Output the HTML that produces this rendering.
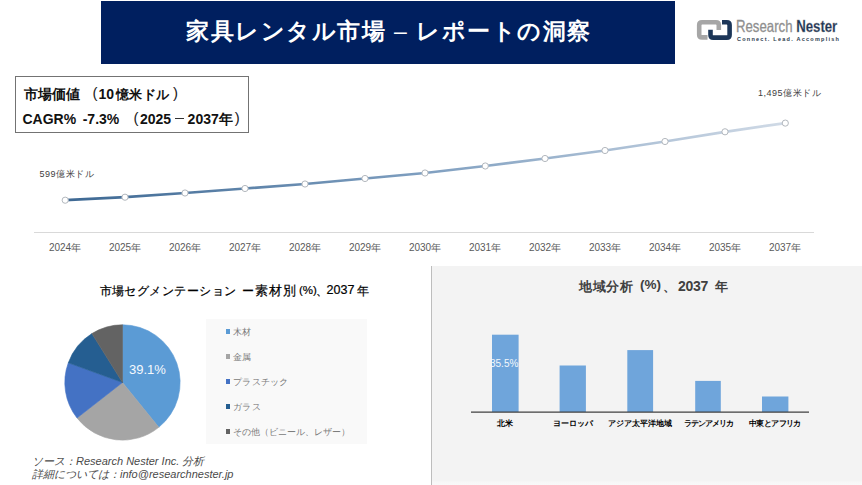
<!DOCTYPE html>
<html lang="ja"><head><meta charset="utf-8">
<style>
html,body{margin:0;padding:0;}
body{width:862px;height:485px;position:relative;overflow:hidden;background:#fff;font-family:"Liberation Sans",sans-serif;color:#000;}
.abs{position:absolute;white-space:nowrap;}
#banner{left:101px;top:1px;width:574px;height:63px;background:#001f5f;}
#tt{left:186px;top:11px;line-height:40px;color:#fff;font-size:23px;font-weight:bold;letter-spacing:1.5px;}
#box{left:15px;top:76px;width:231.5px;height:54.5px;border:1.6px solid #737373;}
.bp{font-size:15px;line-height:20px;color:#222;}
.t1{font-size:12px;line-height:20px;color:#000;-webkit-text-stroke:0.2px #000;}
.t2{font-size:13px;line-height:20px;font-weight:bold;color:#404040;}
.bt{font-size:14px;font-weight:bold;line-height:20px;color:#111;}
#panel{left:431px;top:266px;width:431px;height:219px;background:linear-gradient(#f3f3f3 0,#f3f3f3 214px,#f7f7f7 216px,#f9f9f9 219px);border-left:1.5px solid #bdbdbd;}
#legend{left:206px;top:319px;width:161px;height:125px;background:#f9f9f9;}
.li{font-size:9px;color:#7a7a7a;left:233px;line-height:12px;letter-spacing:0.3px;}
.sq{position:absolute;left:226px;width:4px;height:5px;}
.yr{font-size:10px;color:#5a5a5a;width:60px;text-align:center;top:241px;}
.bl{font-size:8px;font-weight:bold;color:#000;width:80px;text-align:center;top:418px;}
</style></head><body>
<div id="banner" class="abs"></div>
<div id="tt" class="abs">家具レンタル市場 <span style="font-weight:normal">–</span> レポートの洞察</div>

<!-- logo -->
<svg class="abs" style="left:0;top:0" width="862" height="60">
  <path d="M718.8,30 V25 Q718.8,22.3 716,22.3 H702 Q699.2,22.3 699.2,25 V34.7 Q699.2,37.4 702,37.4 H707.5" fill="none" stroke="#a6a6a6" stroke-width="4.6"/>
  <path d="M722,22.3 H726.8 Q729.6,22.3 729.6,25 V34.9 Q729.6,37.6 726.8,37.6 H713.2 Q710.5,37.6 710.5,34.9 V29.8" fill="none" stroke="#1c3658" stroke-width="4.6"/>
</svg>
<div class="abs" style="left:736px;top:15.5px;font-size:16.5px;line-height:20px;color:#8f8f8f;-webkit-text-stroke:0.3px #8f8f8f;transform:scaleX(0.8);transform-origin:0 0;">Research <b style="color:#1c3658">Nester</b></div>
<div class="abs" style="left:737px;top:35px;font-size:5.5px;line-height:8px;color:#2b3a4d;letter-spacing:1.25px;font-weight:bold;">Connect. Lead. Accomplish</div>

<div id="box" class="abs"></div>
<div class="abs bt" style="left:24.4px;top:84px">市場価値</div>
<div class="abs bp" style="left:92.4px;top:82.9px">(</div>
<div class="abs bt" style="left:98.4px;top:84px">10</div>
<div class="abs bt" style="left:116.2px;top:84.5px;font-size:13px">憶米</div>
<div class="abs bt" style="left:143.3px;top:84.5px;font-size:13px">ドル</div>
<div class="abs bp" style="left:172.9px;top:82.9px">)</div>
<div class="abs bt" style="left:22.5px;top:108.7px">CAGR%</div>
<div class="abs bt" style="left:82.7px;top:108.7px">-7.3%</div>
<div class="abs bp" style="left:133.4px;top:107.9px">(</div>
<div class="abs bt" style="left:140px;top:108.7px">2025</div>
<div class="abs" style="left:175px;top:118px;width:9.3px;height:1.4px;background:#333"></div>
<div class="abs bt" style="left:187.6px;top:108.7px">2037年</div>
<div class="abs bp" style="left:234.7px;top:108.2px">)</div>

<!-- line chart -->
<svg class="abs" style="left:0;top:0" width="862" height="260">
  <defs>
    <linearGradient id="lg" x1="65" y1="0" x2="785" y2="0" gradientUnits="userSpaceOnUse">
      <stop offset="0" stop-color="#3d6893"/>
      <stop offset="0.5" stop-color="#7f9fc0"/>
      <stop offset="1" stop-color="#d0dae6"/>
    </linearGradient>
  </defs>
  <line x1="34" y1="232.5" x2="814" y2="232.5" stroke="#d9d9d9" stroke-width="1"/>
  <polyline fill="none" stroke="url(#lg)" stroke-width="2.7" points="65.2,200.2 125,197.2 185,193 245,188.5 305,184 365,178.5 425,173 485.3,166 545,158.5 605,150.5 665,141.5 725,131.8 785.3,123.1"/>
  <g fill="#fff" stroke="#b3b8be" stroke-width="1">
    <circle cx="65.2" cy="200.2" r="3.1"/><circle cx="125" cy="197.2" r="3.1"/><circle cx="185" cy="193" r="3.1"/><circle cx="245" cy="188.5" r="3.1"/><circle cx="305" cy="184" r="3.1"/><circle cx="365" cy="178.5" r="3.1"/><circle cx="425" cy="173" r="3.1"/><circle cx="485.3" cy="166" r="3.1"/><circle cx="545" cy="158.5" r="3.1"/><circle cx="605" cy="150.5" r="3.1"/><circle cx="665" cy="141.5" r="3.1"/><circle cx="725" cy="131.8" r="3.1"/><circle cx="785.3" cy="123.1" r="3.1"/>
  </g>
</svg>
<div class="abs" style="left:39.5px;top:168px;font-size:9px;color:#404040;letter-spacing:0.55px;">599億米ドル</div>
<div class="abs" style="left:758px;top:86.5px;font-size:9px;color:#404040;letter-spacing:0.5px;">1,495億米ドル</div>
<div class="abs yr" style="left:35px">2024年</div>
<div class="abs yr" style="left:95px">2025年</div>
<div class="abs yr" style="left:155px">2026年</div>
<div class="abs yr" style="left:215px">2027年</div>
<div class="abs yr" style="left:275px">2028年</div>
<div class="abs yr" style="left:335px">2029年</div>
<div class="abs yr" style="left:395px">2030年</div>
<div class="abs yr" style="left:455px">2031年</div>
<div class="abs yr" style="left:515px">2032年</div>
<div class="abs yr" style="left:575px">2033年</div>
<div class="abs yr" style="left:635px">2034年</div>
<div class="abs yr" style="left:695px">2035年</div>
<div class="abs yr" style="left:755px">2037年</div>

<!-- bottom left -->
<div class="abs t1" style="left:99.6px;top:280.6px;letter-spacing:0.45px">市場セグメンテーション</div>
<div class="abs t1" style="left:242.1px;top:280.6px">ー</div>
<div class="abs t1" style="left:255.1px;top:280.6px;font-size:13px;letter-spacing:1px">素材別</div>
<div class="abs t1" style="left:299px;top:280.3px;font-size:11.5px">(%)</div>
<div class="abs t1" style="left:315.8px;top:280.6px">、</div>
<div class="abs t1" style="left:326.6px;top:280px;font-size:12.5px">2037</div>
<div class="abs t1" style="left:357.4px;top:280.6px">年</div>
<svg class="abs" style="left:0;top:0" width="431" height="485">
  <g transform="translate(122.5,382.5)">
  <path d="M0,0 L0,-57.7 A57.7,57.7 0 0 1 36.3,44.8 Z" fill="#5b9bd5" stroke="#5b9bd5" stroke-width="0.6" stroke-linejoin="round"/>
  <path d="M0,0 L36.3,44.8 A57.7,57.7 0 0 1 -45.5,35.5 Z" fill="#a5a5a5" stroke="#a5a5a5" stroke-width="0.6" stroke-linejoin="round"/>
  <path d="M0,0 L-45.5,35.5 A57.7,57.7 0 0 1 -54.2,-19.7 Z" fill="#4472c4" stroke="#4472c4" stroke-width="0.6" stroke-linejoin="round"/>
  <path d="M0,0 L-54.2,-19.7 A57.7,57.7 0 0 1 -30.6,-48.9 Z" fill="#255e91" stroke="#255e91" stroke-width="0.6" stroke-linejoin="round"/>
  <path d="M0,0 L-30.6,-48.9 A57.7,57.7 0 0 1 0,-57.7 Z" fill="#636363" stroke="#636363" stroke-width="0.6" stroke-linejoin="round"/>
  </g>
</svg>
<div class="abs" style="left:129px;top:361px;font-size:13px;line-height:18px;color:#f5f9fd;">39.1%</div>
<div id="legend" class="abs"></div>
<div class="sq" style="top:329px;background:#5b9bd5"></div>
<div class="sq" style="top:354px;background:#a5a5a5"></div>
<div class="sq" style="top:379px;background:#4472c4"></div>
<div class="sq" style="top:404px;background:#255e91"></div>
<div class="sq" style="top:429px;background:#636363"></div>
<div class="abs li" style="top:326px">木材</div>
<div class="abs li" style="top:351px">金属</div>
<div class="abs li" style="top:376px">プラスチック</div>
<div class="abs li" style="top:401px">ガラス</div>
<div class="abs li" style="top:426px;letter-spacing:0">その他（ビニール、レザー）</div>
<div class="abs" style="left:32px;top:454px;font-size:11px;font-style:italic;color:#4a4a4a;">ソース：Research Nester Inc. 分析</div>
<div class="abs" style="left:32px;top:467px;font-size:11px;font-style:italic;color:#4a4a4a;">詳細については：info@researchnester.jp</div>

<!-- bottom right -->
<div id="panel" class="abs"></div>
<div class="abs t2" style="left:578.9px;top:277px;letter-spacing:0.8px">地域分析</div>
<div class="abs t2" style="left:640px;top:275px;font-size:13.5px">(%)</div>
<div class="abs t2" style="left:662.6px;top:277px">、</div>
<div class="abs t2" style="left:678.1px;top:275.6px;font-size:14px;letter-spacing:-0.3px">2037</div>
<div class="abs t2" style="left:715.3px;top:277px">年</div>
<svg class="abs" style="left:0;top:0" width="862" height="485">
  <rect x="492" y="334.7" width="26.6" height="77.3" fill="#6fa5db"/>
  <rect x="559.6" y="365.5" width="26.3" height="46.5" fill="#6fa5db"/>
  <rect x="627.3" y="350.1" width="25.8" height="61.9" fill="#6fa5db"/>
  <rect x="695.2" y="380.9" width="25.6" height="31.1" fill="#6fa5db"/>
  <rect x="762" y="396.5" width="26.4" height="15.5" fill="#6fa5db"/>
  <line x1="471" y1="412.2" x2="809" y2="412.2" stroke="#404040" stroke-width="1.2"/>
</svg>
<div class="abs" style="left:490px;top:358.3px;font-size:10px;line-height:12px;color:#f4f8fc;">35.5%</div>
<div class="abs bl" style="left:465px">北米</div>
<div class="abs bl" style="left:533px">ヨーロッパ</div>
<div class="abs bl" style="left:600px">アジア太平洋地域</div>
<div class="abs bl" style="left:668px;letter-spacing:-1px">ラテンアメリカ</div>
<div class="abs bl" style="left:735px;letter-spacing:-0.6px">中東とアフリカ</div>
</body></html>
